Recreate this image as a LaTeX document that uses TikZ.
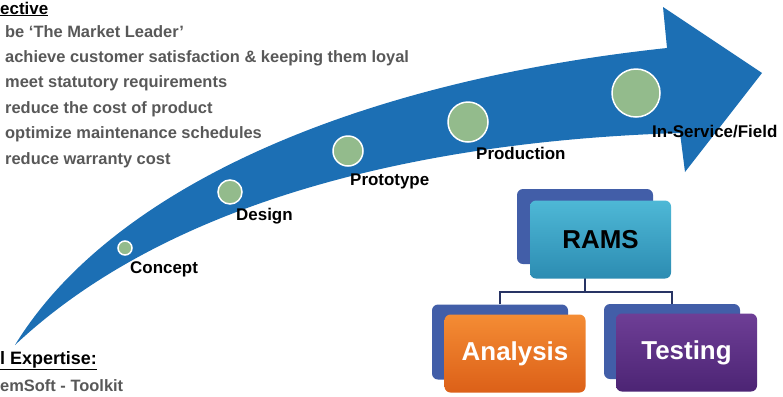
\documentclass[tikz,border=0pt]{standalone}
\usepackage{fontspec}
\setmainfont{Liberation Sans}
\usetikzlibrary{positioning}

\definecolor{arrowblue}{RGB}{28,111,180}
\definecolor{dotgreen}{RGB}{147,187,140}
\definecolor{listgray}{RGB}{88,88,88}
\definecolor{backblue}{RGB}{66,94,168}
\definecolor{linknavy}{RGB}{40,52,100}
\definecolor{tealtop}{RGB}{78,184,214}
\definecolor{tealbot}{RGB}{44,140,178}
\definecolor{orangetop}{RGB}{244,140,52}
\definecolor{orangebot}{RGB}{220,96,24}
\definecolor{purpletop}{RGB}{110,62,150}
\definecolor{purplebot}{RGB}{76,36,116}

\tikzset{
  stage/.style={circle, fill=dotgreen, draw=white, line width=1.5bp, inner sep=0pt},
  stagelabel/.style={anchor=base west, inner sep=0pt,
    font=\fontsize{17}{20}\selectfont\bfseries},
  goal/.style={anchor=base west, inner sep=0pt, text=listgray,
    font=\fontsize{16.5}{20}\selectfont\bfseries},
  backbox/.style={rounded corners=6bp, fill=backblue,
    minimum width=136bp, minimum height=75bp},
  frontbox/.style={rounded corners=6bp, minimum width=141bp, minimum height=78bp,
    font=\fontsize{26}{30}\selectfont\bfseries},
  link/.style={draw=linknavy, line width=2bp}
}

\begin{document}
\begin{tikzpicture}[x=1bp, y=-1bp]
  \useasboundingbox (0,0) rectangle (783,396);

  %% big curved arrow
  \fill[arrowblue] (15,345) .. controls (110,190) and (350,82) .. (667,48)
     -- (663,7) -- (762,73) -- (685,172) -- (680,133)
     .. controls (450,140) and (180,190) .. (15,345) -- cycle;

  %% stages along the arrow
  \foreach \name/\cx/\cy/\d/\lx/\ly/\txt in {
      concept/125/248/14/130/273/Concept,
      design/230/192/24/236/220/Design,
      prototype/348/151/30/350/185/Prototype,
      production/468/122/40/476/159/Production,
      field/636/93/48/652/137/{In-Service/Field}} {
    \node[stage, minimum size=\d bp] (\name) at (\cx,\cy) {};
    \node[stagelabel] (\name-lbl) at (\lx,\ly) {\txt};
  }

  %% objective list
  \node[anchor=base west, inner sep=0pt, font=\fontsize{17}{20}\selectfont\bfseries]
     (objhead) at (0,14) {\underline{ective}};
  \foreach \t [count=\i] in {be `The Market Leader',
      achieve customer satisfaction \& keeping them loyal,
      meet statutory requirements,
      reduce the cost of product,
      optimize maintenance schedules,
      reduce warranty cost} {
    \node[goal] (goal\i) at (5,{37+(\i-1)*25.4}) {\t};
  }

  %% expertise
  \node[anchor=base west, inner sep=0pt, font=\fontsize{18}{20}\selectfont\bfseries]
     (exphead) at (0,364) {\underline{l Expertise:}};
  \node[goal] (toolkit) at (0,391) {emSoft - Toolkit};

  %% RAMS chart
  \node[backbox] (ramsback) at (585,226.5) {};
  \node[backbox] (anaback) at (500,342) {};
  \node[backbox] (testback) at (672,341.5) {};

  \coordinate (bus) at (585,292);
  \draw[link] (ramsback.south) -- (bus);
  \draw[link] (anaback.north) |- (bus) -| (testback.north);

  \node[frontbox, top color=tealtop, bottom color=tealbot, text=black]
     (rams) at (600.5,239.5) {RAMS};
  \node[frontbox, top color=orangetop, bottom color=orangebot, text=white]
     (analysis) at (515,353.5) {Analysis};
  \node[frontbox, top color=purpletop, bottom color=purplebot, text=white]
     (testing) at (686.5,352.5) {Testing};

\end{tikzpicture}
\end{document}
